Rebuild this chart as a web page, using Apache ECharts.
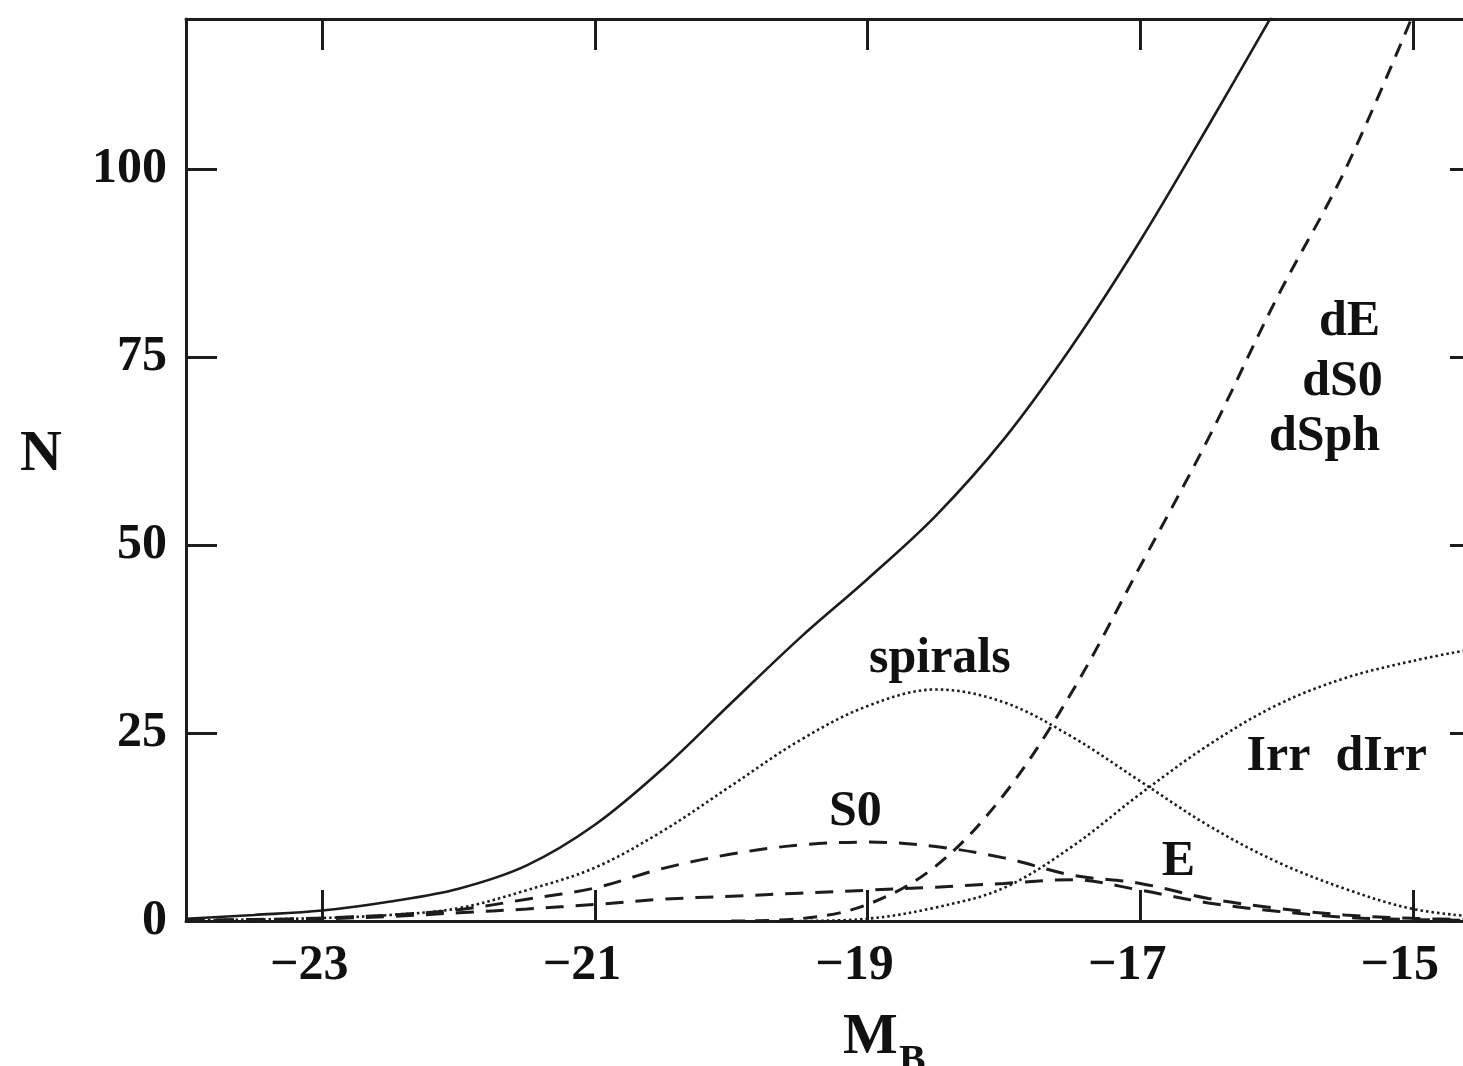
<!DOCTYPE html>
<html>
<head>
<meta charset="utf-8">
<title>Galaxy luminosity function by type</title>
<script src="https://cdn.jsdelivr.net/npm/echarts@6/dist/echarts.min.js"></script>
<style>
  html, body { margin: 0; padding: 0; background: #ffffff; overflow: hidden; }
  #chart { width: 1463px; height: 1066px; }
</style>
</head>
<body>
<div id="chart"></div>
<script>
// Absolute blue magnitude grid (M_B)
const magnitudes = [-24, -23.5, -23, -22.5, -22, -21.5, -21, -20.5, -20, -19.5,
                    -19, -18.5, -18, -17.5, -17, -16.5, -16, -15.5, -15, -14.5];

// Number of galaxies per magnitude bin, by morphological type
const total    = [0.3, 0.8, 1.4, 2.6, 4.3, 7.4, 12.8, 20.3, 29.0, 37.6,
                  45.5, 53.9, 64.1, 76.5, 90.5, 105.8, 121.5, null, null, null];
const dwarfs   = [null, null, null, null, null, null, null, null, 0.0, 0.3,
                  2.2, 7.3, 16.8, 30.5, 47.2, 64.2, 82.8, 99.8, 120.5, null];
const spirals  = [0.1, 0.2, 0.4, 0.8, 1.7, 4.1, 7.1, 12.0, 18.0, 24.0,
                  28.6, 30.8, 29.1, 24.5, 18.6, 12.7, 7.9, 4.3, 1.6, 0.5];
const lenticulars = [0.1, 0.2, 0.4, 0.8, 1.5, 2.9, 4.4, 7.0, 8.9, 10.1,
                  10.5, 9.9, 8.4, 6.1, 5.0, 3.0, 1.7, 0.8, 0.35, 0.15];
const ellipticals = [0.05, 0.15, 0.3, 0.6, 1.1, 1.6, 2.2, 2.9, 3.3, 3.7,
                  4.1, 4.5, 5.0, 5.5, 4.1, 2.4, 1.3, 0.5, 0.2, 0.05];
const irregulars  = [null, null, null, null, null, null, null, null, null, 0.0,
                  0.3, 1.8, 4.4, 9.9, 16.9, 23.4, 28.7, 32.3, 34.6, 36.4];

// Tick positions / labels
const xTicks = [-23, -21, -19, -17, -15];
const yTicks = [0, 25, 50, 75, 100];

// Curve annotations (data coordinates of the text baseline anchor)
const annotations = [
  { text: 'spirals',    x: -18.47, y: 33.1, align: 'center' },
  { text: 'S0',         x: -19.09, y: 12.8, align: 'center' },
  { text: 'E',          x: -16.72, y: 6.1,  align: 'center' },
  { text: 'Irr  dIrr',  x: -16.22, y: 20.1, align: 'left' },
  { text: 'dE',         x: -15.24, y: 78.0, align: 'right' },
  { text: 'dS0',        x: -15.22, y: 70.0, align: 'right' },
  { text: 'dSph',       x: -15.24, y: 62.7, align: 'right' }
];

const INK = '#1c1c1c';
const FONT = '"Liberation Serif", "DejaVu Serif", serif';
// distance from the bottom of a text box to its baseline, per px of font size
const DESCENT = 0.24;

function pairs(values) {
  const out = [];
  values.forEach((v, i) => { if (v !== null) out.push([magnitudes[i], v]); });
  return out;
}

function minusSign(v) {
  return String(v).replace('-', '\u2212');
}

const chart = echarts.init(document.getElementById('chart'), null, { renderer: 'canvas' });

const tickCommon = {
  inside: true,
  length: 31,
  lineStyle: { color: INK, width: 3 }
};
const lineCommon = { show: true, onZero: false, lineStyle: { color: INK, width: 3 } };
const labelFont = { fontFamily: FONT, fontWeight: 'bold', fontSize: 50, color: '#111' };

function curve(name, values, lineType, width) {
  return {
    name: name,
    type: 'line',
    data: pairs(values),
    xAxisIndex: 0,
    yAxisIndex: 0,
    smooth: 0.35,
    showSymbol: false,
    symbol: 'none',
    clip: true,
    lineStyle: { color: INK, width: width, type: lineType },
    emphasis: { disabled: true },
    z: 3
  };
}

chart.setOption({
  animation: false,
  backgroundColor: '#ffffff',
  // the plot frame runs slightly past the right edge of the canvas
  grid: {
    left: 186, top: 19, width: 1295, height: 902,
    containLabel: false, outerBoundsMode: 'none'
  },
  xAxis: [
    {
      type: 'value', position: 'bottom', min: -24, max: -14.5,
      axisLine: lineCommon,
      axisTick: Object.assign({ customValues: xTicks }, tickCommon),
      axisLabel: Object.assign({
        customValues: xTicks, margin: 20, formatter: minusSign,
        padding: [0, 26, 0, 0]
      }, labelFont),
      splitLine: { show: false }
    },
    {
      type: 'value', position: 'top', min: -24, max: -14.5,
      axisLine: lineCommon,
      axisTick: Object.assign({ customValues: xTicks }, tickCommon),
      axisLabel: { show: false },
      splitLine: { show: false }
    }
  ],
  yAxis: [
    {
      type: 'value', position: 'left', min: 0, max: 120,
      axisLine: lineCommon,
      axisTick: Object.assign({ customValues: yTicks }, tickCommon),
      axisLabel: Object.assign({ customValues: yTicks, margin: 19 }, labelFont),
      splitLine: { show: false }
    },
    {
      type: 'value', position: 'right', min: 0, max: 120,
      axisLine: lineCommon,
      axisTick: Object.assign({ customValues: yTicks }, tickCommon),
      axisLabel: { show: false },
      splitLine: { show: false }
    }
  ],
  series: [
    curve('total', total, 'solid', 2.6),
    curve('dE dS0 dSph', dwarfs, [14, 10], 3),
    curve('spirals', spirals, [2.5, 3], 2.6),
    curve('S0', lenticulars, [18, 12], 3),
    curve('E', ellipticals, [18, 12], 3),
    curve('Irr dIrr', irregulars, [2.5, 3], 2.6)
  ]
});

function textAtBaseline(text, x, baseline, size, align) {
  return {
    type: 'text', x: x, y: baseline + DESCENT * size, z: 10,
    style: {
      text: text, fill: '#111', font: 'bold ' + size + 'px ' + FONT,
      align: align, verticalAlign: 'bottom'
    }
  };
}

// Curve labels and axis titles
const graphics = annotations.map(a => {
  const p = chart.convertToPixel({ gridIndex: 0 }, [a.x, a.y]);
  return textAtBaseline(a.text, p[0], p[1], 50, a.align);
});
graphics.push(textAtBaseline('N', 41, 470, 58, 'center'));
graphics.push(textAtBaseline('M', 843, 1053, 58, 'left'));
graphics.push(textAtBaseline('B', 899, 1072, 40, 'left'));

chart.setOption({ graphic: graphics });
</script>
</body>
</html>
